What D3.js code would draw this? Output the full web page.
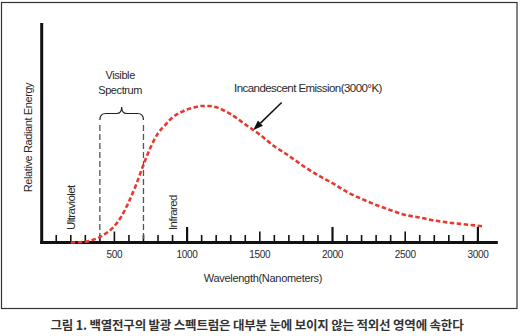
<!DOCTYPE html>
<html>
<head>
<meta charset="utf-8">
<script src="https://cdn.jsdelivr.net/npm/d3@7"></script>
<style>
  html, body { margin: 0; padding: 0; background: #fff; }
  svg { display: block; }
  .lbl { font-family: "Liberation Sans", Arial, sans-serif; fill: #2a2a2a; }
</style>
</head>
<body>
<svg id="chart" width="525" height="336"></svg>
<script>
// ---- data ----
const wavelengths = [200, 300, 350, 400, 450, 500, 550, 600, 650, 700, 750, 800, 850, 900, 950,
  1000, 1050, 1100, 1150, 1200, 1300, 1400, 1500, 1600, 1700, 1800, 1900, 2000, 2100, 2200,
  2300, 2400, 2500, 2600, 2700, 2800, 2900, 3000, 3040];
const energy = [0, 0.5, 1.8, 4, 7.3, 12, 19.5, 30, 42.5, 57, 70, 80, 86.2, 91.8, 95,
  97.5, 99, 100, 100, 99, 94, 86.5, 79, 70.5, 63.5, 56, 49.3, 43.5, 37, 32,
  27.5, 23.7, 20.2, 18.3, 16.1, 14.6, 13.4, 12.3, 11.7];
const tickValues = d3.range(100, 3001, 100);
const tickLabels = [500, 1000, 1500, 2000, 2500, 3000];
const visibleRange = [400, 700];
const arrowAt = 1455;
const xTitle = "Wavelength(Nanometers)";
const yTitle = "Relative Radiant Energy";
const curveTitle = "Incandescent Emission(3000°K)";
const caption = "그림 1. 백열전구의 발광 스펙트럼은 대부분 눈에 보이지 않는 적외선 영역에 속한다";

// ---- scales ----
const x = d3.scaleLinear().domain([0, 3000]).range([41.7, 477.9]);
const y = d3.scaleLinear().domain([0, 100]).range([242.5, 106]);

const svg = d3.select("#chart");

// frame
svg.append("rect").attr("x", 1.5).attr("y", 2.5).attr("width", 515.5).attr("height", 306)
  .attr("fill", "none").attr("stroke", "#333").attr("stroke-width", 1.2);

// axes
svg.append("line").attr("x1", x(0)).attr("x2", x(0)).attr("y1", 23).attr("y2", y(0) + 1.5)
  .attr("stroke", "#111").attr("stroke-width", 3);
svg.append("line").attr("x1", x(0) - 1.5).attr("x2", x(3137)).attr("y1", y(0)).attr("y2", y(0))
  .attr("stroke", "#111").attr("stroke-width", 3);

// ticks
svg.append("g").selectAll("line").data(tickValues).join("line")
  .attr("x1", d => x(d)).attr("x2", d => x(d))
  .attr("y1", y(0))
  .attr("y2", d => d % 1000 === 0 ? 227 : (d % 500 === 0 ? 231.5 : 235))
  .attr("stroke", "#111")
  .attr("stroke-width", d => d % 1000 === 0 ? 2.2 : 1.6);

// tick labels
svg.append("g").selectAll("text").data(tickLabels).join("text")
  .attr("class", "lbl")
  .attr("x", d => x(d)).attr("y", 257.5)
  .attr("text-anchor", "middle")
  .attr("font-size", 10).attr("letter-spacing", -0.3)
  .text(d => d);

// axis titles
svg.append("text").attr("class", "lbl")
  .attr("x", 263).attr("y", 281.5).attr("text-anchor", "middle")
  .attr("font-size", 11).attr("letter-spacing", -0.3)
  .text(xTitle);
svg.append("text").attr("class", "lbl")
  .attr("transform", "translate(31.5,137.5) rotate(-90)")
  .attr("text-anchor", "middle")
  .attr("font-size", 11).attr("letter-spacing", -0.4)
  .text(yTitle);

// rotated region labels
svg.append("text").attr("class", "lbl")
  .attr("transform", "translate(75,230) rotate(-90)")
  .attr("font-size", 11.5).attr("letter-spacing", -0.6)
  .text("Ultraviolet");
svg.append("text").attr("class", "lbl")
  .attr("transform", "translate(177,230) rotate(-90)")
  .attr("font-size", 11.5).attr("letter-spacing", -0.6)
  .text("Infrared");

// visible dashed lines
svg.append("g").selectAll("line").data(visibleRange).join("line")
  .attr("x1", d => x(d)).attr("x2", d => x(d))
  .attr("y1", 125).attr("y2", y(0) - 1)
  .attr("stroke", "#555").attr("stroke-width", 1.3)
  .attr("stroke-dasharray", "6,3");

// brace
const bx1 = x(visibleRange[0]), bx2 = x(visibleRange[1]), bxc = (bx1 + bx2) / 2;
const bp = d3.path();
bp.moveTo(bx1, 120);
bp.quadraticCurveTo(bx1, 113.5, bx1 + 6, 113.5);
bp.lineTo(bxc - 5, 113.5);
bp.quadraticCurveTo(bxc, 113.5, bxc, 107);
bp.quadraticCurveTo(bxc, 113.5, bxc + 5, 113.5);
bp.lineTo(bx2 - 6, 113.5);
bp.quadraticCurveTo(bx2, 113.5, bx2, 120);
svg.append("path").attr("d", bp.toString()).attr("fill", "none")
  .attr("stroke", "#222").attr("stroke-width", 1.2);

svg.append("text").attr("class", "lbl").attr("x", bxc - 1.5).attr("y", 79.3)
  .attr("text-anchor", "middle").attr("font-size", 11).attr("letter-spacing", -0.4)
  .text("Visible");
svg.append("text").attr("class", "lbl").attr("x", bxc - 1.5).attr("y", 94.3)
  .attr("text-anchor", "middle").attr("font-size", 11).attr("letter-spacing", -0.4)
  .text("Spectrum");

// emission curve
const pts = wavelengths.map((w, i) => [w, energy[i]]);
const line = d3.line().x(d => x(d[0])).y(d => y(d[1])).curve(d3.curveMonotoneX);
svg.append("path").datum(pts).attr("d", line)
  .attr("fill", "none").attr("stroke", "#e8392f").attr("stroke-width", 2.6)
  .attr("stroke-dasharray", "4.5,2.5");

// arrow to curve
const bis = d3.bisector(d => d).left;
const k = bis(wavelengths, arrowAt);
const t = (arrowAt - wavelengths[k - 1]) / (wavelengths[k] - wavelengths[k - 1]);
const ev = energy[k - 1] + t * (energy[k] - energy[k - 1]);
const tipX = x(arrowAt), tipY = y(ev);
const tailX = tipX + 28.4, tailY = tipY - 27.6;
const ang = Math.atan2(tipY - tailY, tipX - tailX);
const hl = 10, hw = 3.6;
const baseX = tipX - hl * Math.cos(ang), baseY = tipY - hl * Math.sin(ang);
svg.append("line").attr("x1", tailX).attr("y1", tailY).attr("x2", baseX).attr("y2", baseY)
  .attr("stroke", "#111").attr("stroke-width", 1.5);
svg.append("path")
  .attr("d", `M${tipX},${tipY}L${baseX + hw * Math.sin(ang)},${baseY - hw * Math.cos(ang)}L${baseX - hw * Math.sin(ang)},${baseY + hw * Math.cos(ang)}Z`)
  .attr("fill", "#111");

svg.append("text").attr("class", "lbl").attr("x", 234).attr("y", 91.7)
  .attr("font-size", 11.5).attr("letter-spacing", -0.55)
  .text(curveTitle);

// caption
svg.append("text")
  .attr("x", 257).attr("y", 330).attr("text-anchor", "middle")
  .attr("font-family", "'Noto Sans CJK KR', sans-serif")
  .attr("font-weight", "bold").attr("font-size", 12.5).attr("letter-spacing", -0.2)
  .attr("fill", "#333")
  .text(caption);
</script>
</body>
</html>
